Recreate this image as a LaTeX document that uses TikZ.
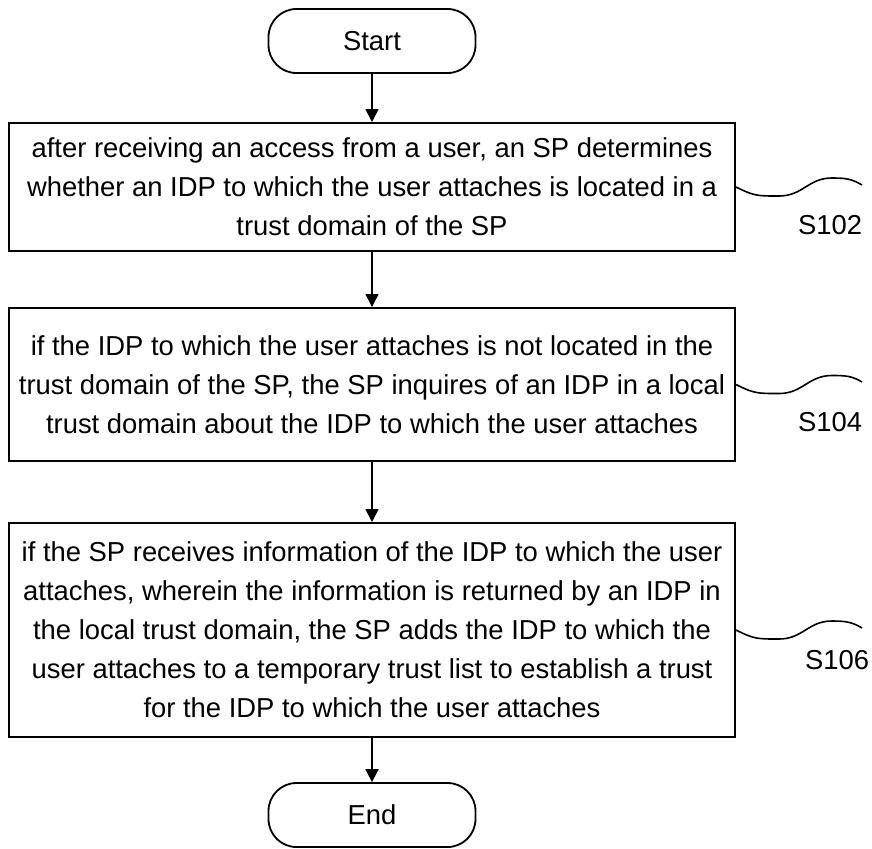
\documentclass[tikz,border=0pt]{standalone}
\usepackage{fontspec}
\setmainfont{Liberation Sans}
\usetikzlibrary{arrows.meta}
\begin{document}
\begin{tikzpicture}[x=0.5pt,y=-0.5pt,
        every node/.style={font=\fontsize{13.7}{19.5}\selectfont},
        terminal/.style={draw,line width=0.9pt,rounded corners=14pt,
            minimum width=103.5pt,minimum height=32pt},
        stepbox/.style={draw,line width=1pt,align=center,minimum width=363pt,inner sep=0pt},
        flow/.style={line width=0.8pt,-{Triangle[length=6.5pt,width=6.5pt]}},
        wave/.style={line width=0.8pt,to path={
            .. controls +(18,9) and +(-22,0) .. ++(43,9)
            .. controls +(24,0) and +(-24,0) .. ++(53,-18)
            .. controls +(14,0) and +(-10,-6) .. (\tikztotarget) \tikztonodes}}]
    \useasboundingbox (0,0) rectangle (872,848);
    \node[terminal] (start) at (372,41) {Start};
    \node[stepbox,minimum height=64pt] (s102) at (372,187)
        {after receiving an access from a user, an SP determines\\
         whether an IDP to which the user attaches is located in a\\
         trust domain of the SP};
    \node[stepbox,minimum height=76.5pt] (s104) at (372,384.5)
        {if the IDP to which the user attaches is not located in the\\
         trust domain of the SP, the SP inquires of an IDP in a local\\
         trust domain about the IDP to which the user attaches};
    \node[stepbox,minimum height=107pt] (s106) at (372,630)
        {if the SP receives information of the IDP to which the user\\
         attaches, wherein the information is returned by an IDP in\\
         the local trust domain, the SP adds the IDP to which the\\
         user attaches to a temporary trust list to establish a trust\\
         for the IDP to which the user attaches};
    \node[terminal] (end) at (372,815) {End};
    % step labels
    \node (l102) at (830,225) {S102};
    \node (l104) at (830,422) {S104};
    \node (l106) at (837,660) {S106};
    \coordinate (w102) at (862,185);
    \coordinate (w104) at (862,382);
    \coordinate (w106) at (862,628);
    \draw[flow] (start) -- (s102);
    \draw[flow] (s102) -- (s104);
    \draw[flow] (s104) -- (s106);
    \draw[flow] (s106) -- (end);
    \draw[wave] (s102.east) to (w102)
                (s104.east) to (w104)
                (s106.east) to (w106);
\end{tikzpicture}
\end{document}
